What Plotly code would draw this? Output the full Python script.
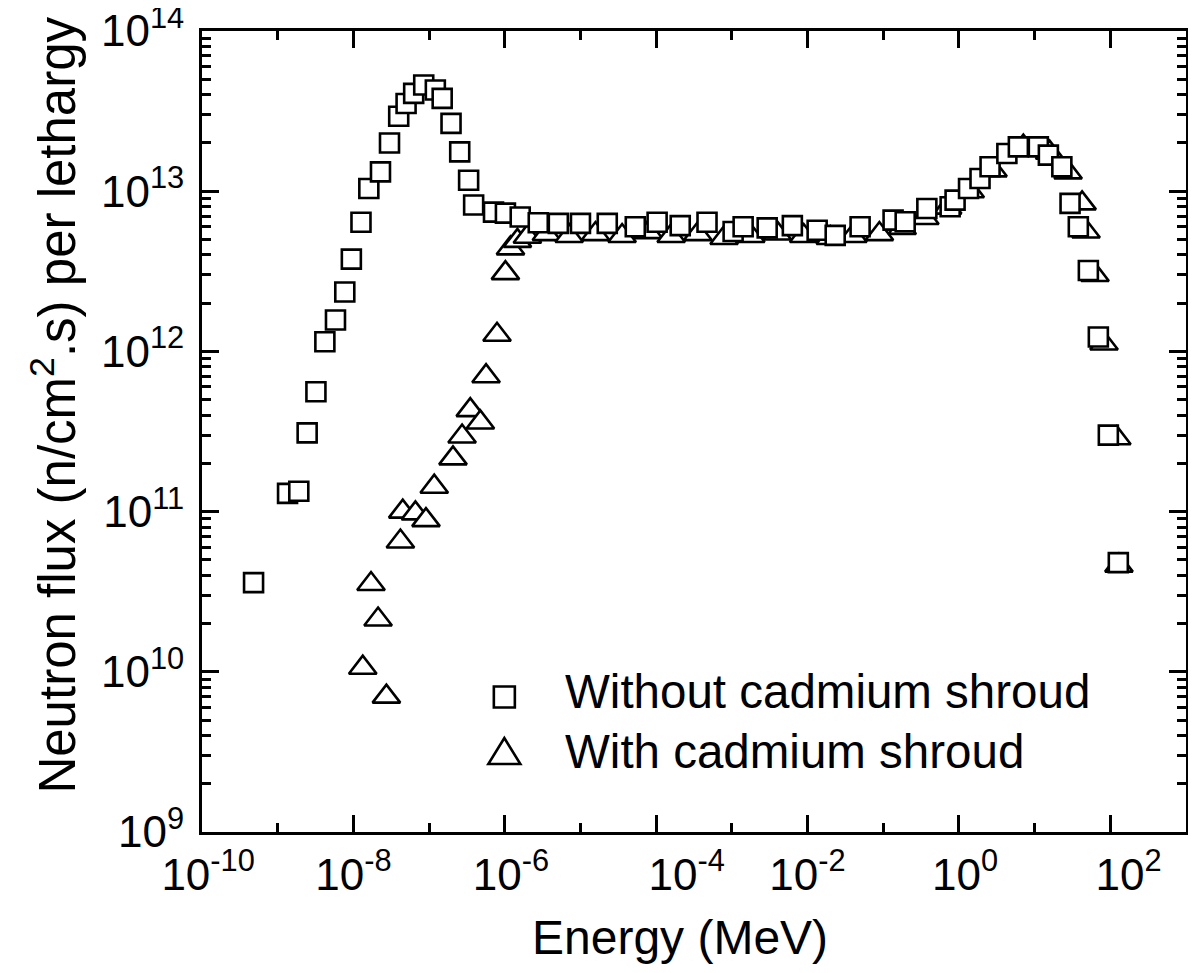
import plotly.graph_objects as go

# ---------------- data ----------------
# Without cadmium shroud (squares): energy in MeV, flux in n/(cm2.s) per lethargy
e_without = [4.8e-10, 1.35e-9, 1.9e-9, 2.45e-9, 3.2e-9, 4.2e-9, 5.8e-9, 7.7e-9, 9.4e-9,
             1.26e-8, 1.6e-8, 2.28e-8, 3.0e-8, 3.97e-8, 4.97e-8, 6.26e-8, 8.5e-8,
             1.21e-7, 1.49e-7, 1.95e-7, 2.54e-7, 3.33e-7, 3.88e-7, 7.1e-7,
             1.02e-6, 1.6e-6, 2.77e-6, 5.1e-6, 1.0e-5, 2.26e-5, 5.3e-5,
             1.03e-4, 2.08e-4, 4.7e-4, 1.04e-3, 1.41e-3, 2.93e-3, 6.3e-3,
             1.34e-2, 2.32e-2, 4.95e-2, 0.135, 0.195, 0.377, 0.766, 0.89,
             1.34, 1.9, 2.58, 4.3, 6.1, 11.2, 15.2, 22.9, 29.4, 37.8, 51.3, 69.5, 94.2, 127.6]
f_without = [3.6e10, 1.3e11, 1.34e11, 3.1e11, 5.6e11, 1.15e12, 1.57e12, 2.35e12, 3.77e12,
             6.4e12, 1.04e13, 1.32e13, 2.0e13, 2.94e13, 3.53e13, 4.08e13, 4.6e13,
             4.28e13, 3.8e13, 2.65e13, 1.76e13, 1.17e13, 8.2e12, 7.4e12,
             7.3e12, 6.9e12, 6.35e12, 6.3e12, 6.3e12, 6.3e12, 6.0e12,
             6.4e12, 6.1e12, 6.4e12, 5.6e12, 6.0e12, 5.9e12, 6.1e12,
             5.7e12, 5.3e12, 6.0e12, 6.6e12, 6.45e12, 7.8e12, 8.0e12, 8.8e12,
             1.04e13, 1.2e13, 1.42e13, 1.72e13, 1.89e13, 1.89e13, 1.68e13, 1.42e13,
             8.4e12, 6.0e12, 3.2e12, 1.23e12, 3.0e11, 4.8e10]

# With cadmium shroud (triangles)
e_with = [1.33e-8, 1.71e-8, 2.12e-8, 2.73e-8, 4.18e-8, 4.49e-8, 6.6e-8, 9.1e-8,
          1.17e-7, 2.07e-7, 2.73e-7, 3.5e-7, 4.76e-7, 5.66e-7, 7.9e-7,
          1.02e-6, 1.19e-6, 1.47e-6, 1.99e-6, 3.55e-6, 7.1e-6, 1.58e-5, 3.55e-5,
          7.9e-5, 1.58e-4, 3.55e-4, 7.9e-4, 1.78e-3, 3.98e-3, 8.9e-3, 2.0e-2,
          3.98e-2, 8.9e-2, 0.178, 0.355, 0.71, 1.41, 2.82, 7.1, 15.8, 27.7,
          42.4, 47.8, 62.8, 82.6, 122.0, 130.0]
f_with = [1.06e10, 3.53e10, 2.12e10, 7.0e9, 6.5e10, 1.0e11, 9.75e10, 8.85e10,
          1.43e11, 2.15e11, 2.94e11, 4.3e11, 3.6e11, 7.0e11, 1.27e12,
          3.08e12, 4.4e12, 4.9e12, 5.2e12, 5.4e12, 5.25e12, 5.4e12, 5.25e12,
          5.55e12, 5.25e12, 5.4e12, 5.1e12, 5.25e12, 5.45e12, 5.25e12, 5.1e12,
          5.25e12, 5.4e12, 5.9e12, 6.8e12, 7.9e12, 1.0e13, 1.35e13, 1.9e13, 1.74e13, 1.31e13,
          8.4e12, 5.6e12, 3.0e12, 1.12e12, 2.87e11, 4.6e10]

NB = "\u00a0"
x_tickvals = [1e-10, 1e-8, 1e-6, 1e-4, 1e-2, 1e0, 1e2]
x_ticktext = [NB + "10<sup>-10</sup>", "10<sup>-8</sup>", NB + "10<sup>-6</sup>",
              NB * 5 + "10<sup>-4</sup>", "10<sup>-2</sup>", NB + "10<sup>0</sup>",
              NB * 3 + "10<sup>2</sup>"]
x_minorvals = [1e-9, 1e-7, 1e-5, 1e-3, 1e-1, 1e1]
y_tickvals = [1e9, 1e10, 1e11, 1e12, 1e13, 1e14]
y_ticktext = ["10<sup>9</sup>", "10<sup>10</sup>", "10<sup>11</sup>", "10<sup>12</sup>",
              "10<sup>13</sup>", "10<sup>14</sup>"]
y_minorvals = [k * 10.0 ** n for n in range(9, 14) for k in range(2, 10)]

legend_labels = ["Without cadmium shroud", "With cadmium shroud"]
x_title = "Energy (MeV)"
y_title = "Neutron flux (n/cm<sup>2</sup>.s) per lethargy"

# ---------------- layout geometry ----------------
OFF = 8  # page body margin that offsets the figure in the browser
W, H = 1196 - OFF, 973 - OFF
L, R, T, B = 201.5 - OFF, 10, 31 - OFF, 141
PW, PH = W - L - R, H - T - B
FONT = "Liberation Sans, Arial, Helvetica, sans-serif"


def px(xp):
    """screen x (page pixels) -> paper fraction"""
    return (xp - OFF - L) / PW


def py(yp):
    """screen y (page pixels) -> paper fraction"""
    return (H - B - (yp - OFF)) / PH


fig = go.Figure()
fig.add_trace(go.Scatter(
    x=e_with, y=f_with, mode="markers", name=legend_labels[1], showlegend=False,
    marker=dict(symbol="triangle-up", size=24, color="white",
                line=dict(color="black", width=2.6))))
fig.add_trace(go.Scatter(
    x=e_without, y=f_without, mode="markers", name=legend_labels[0], showlegend=False,
    marker=dict(symbol="square", size=19, color="white",
                line=dict(color="black", width=2.6))))

axis_common = dict(showline=True, linecolor="black", linewidth=3, mirror="ticks",
                   ticks="inside", tickcolor="black", tickwidth=2.5, ticklen=17,
                   showgrid=False, zeroline=False, automargin=False,
                   ticklabeloverflow="allow",
                   tickfont=dict(family=FONT, size=44, color="black"))

fig.update_xaxes(type="log", range=[-10, 3.0001], tickmode="array", tickvals=x_tickvals,
                 ticktext=x_ticktext, ticklabelstandoff=2,
                 minor=dict(tickmode="array", tickvals=x_minorvals, ticks="inside",
                            ticklen=9, tickwidth=2.5, tickcolor="black", showgrid=False),
                 **axis_common)
fig.update_yaxes(type="log", range=[8.9999, 14.0001], tickmode="array", tickvals=y_tickvals,
                 ticktext=y_ticktext, ticklabelstandoff=6,
                 minor=dict(tickmode="array", tickvals=y_minorvals, ticks="inside",
                            ticklen=9, tickwidth=2.5, tickcolor="black", showgrid=False),
                 **axis_common)

annotations = [
    dict(text=y_title, xref="paper", yref="paper", x=px(53), y=py(405), textangle=-90,
         showarrow=False, xanchor="center", yanchor="middle",
         font=dict(family=FONT, size=51, color="black")),
    dict(text=x_title, xref="paper", yref="paper", x=px(680), y=py(938),
         showarrow=False, xanchor="center", yanchor="middle",
         font=dict(family=FONT, size=48, color="black")),
    dict(text=legend_labels[0], xref="paper", yref="paper", x=px(563), y=py(691),
         showarrow=False, xanchor="left", yanchor="middle",
         font=dict(family=FONT, size=47.5, color="black")),
    dict(text=legend_labels[1], xref="paper", yref="paper", x=px(563), y=py(751),
         showarrow=False, xanchor="left", yanchor="middle",
         font=dict(family=FONT, size=47.5, color="black")),
]

shapes = [
    # legend square
    dict(type="rect", xref="paper", yref="paper", xsizemode="pixel", ysizemode="pixel",
         xanchor=px(504), yanchor=py(697), x0=-10.5, x1=10.5, y0=-10.5, y1=10.5,
         line=dict(color="black", width=2.6), fillcolor="white"),
    # legend triangle
    dict(type="path", xref="paper", yref="paper", xsizemode="pixel", ysizemode="pixel",
         xanchor=px(504), yanchor=py(752), path="M -16 -12 L 16 -12 L 0 14 Z",
         line=dict(color="black", width=2.6), fillcolor="white"),
]

fig.update_layout(width=W, height=H, margin=dict(l=L, r=R, t=T, b=B, pad=0, autoexpand=False),
                  paper_bgcolor="white", plot_bgcolor="white",
                  annotations=annotations, shapes=shapes, showlegend=False,
                  font=dict(family=FONT, color="black"))

fig.write_html("out.html")
